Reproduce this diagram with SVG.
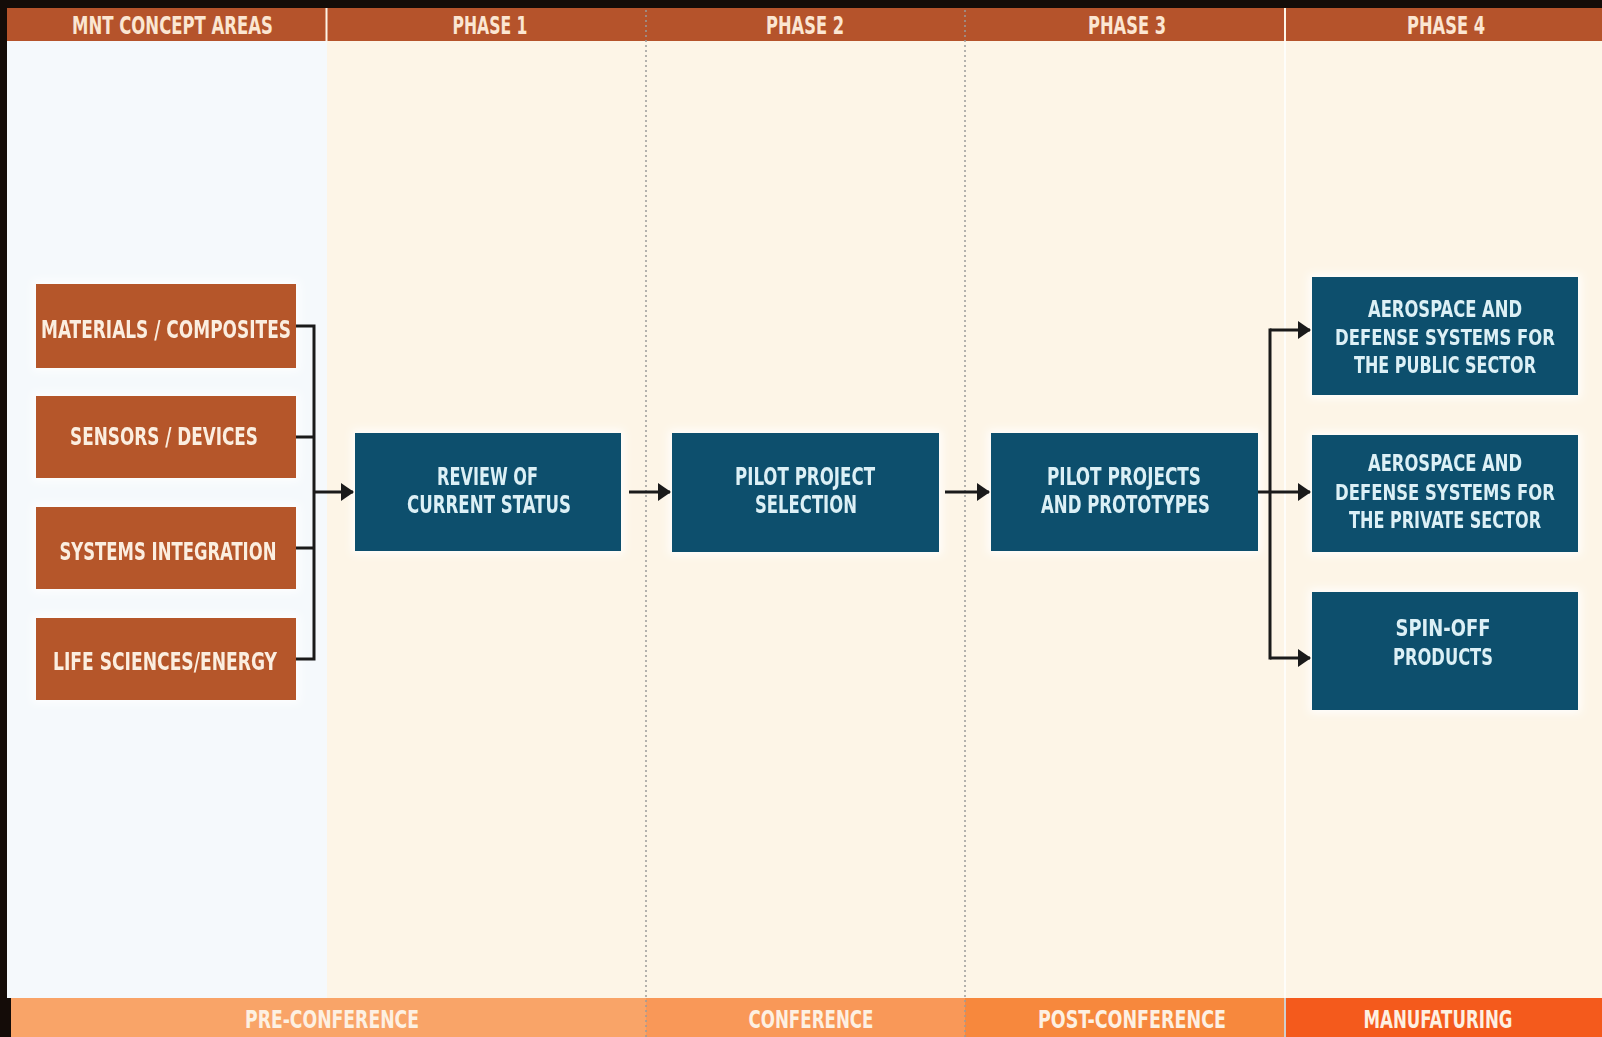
<svg xmlns="http://www.w3.org/2000/svg" width="1602" height="1037" viewBox="0 0 1602 1037">
<defs>
<style>
.t{font-family:"DejaVu Sans Condensed","Liberation Sans",sans-serif;font-weight:bold;font-size:24px;text-anchor:middle;}
.hd{fill:#fbe6d2;}
.ft{fill:#fdf0e2;font-size:25px;}
.ot{fill:#fbeee0;}
.bt{fill:#dcf0f6;}
.rt{font-size:23px;}
.dt{font-size:21px;}
.ob{fill:#b5572b;}
.bb{fill:#0d4f6d;}
.cn{stroke:#1a1a1a;stroke-width:3;fill:none;}
.dot{stroke:#9a9a9a;stroke-width:1.5;stroke-dasharray:2 3;fill:none;}
</style>
<marker id="ah" viewBox="0 0 13 18" refX="12" refY="9" markerWidth="13" markerHeight="18" markerUnits="userSpaceOnUse" orient="auto">
<path d="M0,0 L13,9 L0,18 Z" fill="#1a1a1a"/>
</marker>
<filter id="glow" x="-10%" y="-20%" width="120%" height="140%">
<feMorphology in="SourceAlpha" operator="dilate" radius="3" result="d"/>
<feGaussianBlur in="d" stdDeviation="4" result="b"/>
<feFlood flood-color="#ffffff" flood-opacity="0.9"/>
<feComposite in2="b" operator="in" result="g"/>
<feMerge><feMergeNode in="g"/><feMergeNode in="SourceGraphic"/></feMerge>
</filter>
</defs>

<rect x="0" y="0" width="1602" height="1037" fill="#140c08"/>
<rect x="7" y="41" width="321" height="957" fill="#f5f9fc"/>
<rect x="327" y="41" width="1275" height="957" fill="#fdf5e7"/>

<g id="header">
<rect x="7" y="8" width="1595" height="33" fill="#b5532b"/>
<line x1="326.5" y1="8" x2="326.5" y2="41" stroke="#fdf5e7" stroke-width="2"/>
<line x1="1285" y1="8" x2="1285" y2="41" stroke="#fdf5e7" stroke-width="2"/>
<text class="t hd" x="172.5" y="34" textLength="201" lengthAdjust="spacingAndGlyphs">MNT CONCEPT AREAS</text>
<text class="t hd" x="490" y="34" textLength="75" lengthAdjust="spacingAndGlyphs">PHASE 1</text>
<text class="t hd" x="805" y="34" textLength="78" lengthAdjust="spacingAndGlyphs">PHASE 2</text>
<text class="t hd" x="1127" y="34" textLength="78" lengthAdjust="spacingAndGlyphs">PHASE 3</text>
<text class="t hd" x="1446" y="34" textLength="78" lengthAdjust="spacingAndGlyphs">PHASE 4</text>
</g>

<g id="footer">
<rect x="11" y="998" width="635" height="39" fill="#f9a468"/>
<rect x="646" y="998" width="319" height="39" fill="#f99858"/>
<rect x="965" y="998" width="319" height="39" fill="#f7883d"/>
<rect x="1286" y="998" width="316" height="39" fill="#f45a1c"/>
<line x1="1285" y1="41" x2="1285" y2="1037" stroke="#ffffff" stroke-width="2" opacity="0.8"/>
<text class="t ft" x="332" y="1028" textLength="174" lengthAdjust="spacingAndGlyphs">PRE-CONFERENCE</text>
<text class="t ft" x="811" y="1028" textLength="125" lengthAdjust="spacingAndGlyphs">CONFERENCE</text>
<text class="t ft" x="1132" y="1028" textLength="188" lengthAdjust="spacingAndGlyphs">POST-CONFERENCE</text>
<text class="t ft" x="1438" y="1028" textLength="149" lengthAdjust="spacingAndGlyphs">MANUFATURING</text>
</g>

<g id="dividers">
<line class="dot" x1="646" y1="10" x2="646" y2="1037"/>
<line class="dot" x1="965" y1="10" x2="965" y2="1037"/>
</g>

<g id="materials" filter="url(#glow)">
<rect class="ob" x="36" y="284" width="260" height="84"/>
<text class="t ot" x="166" y="338" textLength="250" lengthAdjust="spacingAndGlyphs">MATERIALS / COMPOSITES</text>
</g>
<g id="sensors" filter="url(#glow)">
<rect class="ob" x="36" y="396" width="260" height="82"/>
<text class="t ot" x="164" y="445" textLength="188" lengthAdjust="spacingAndGlyphs">SENSORS / DEVICES</text>
</g>
<g id="systems" filter="url(#glow)">
<rect class="ob" x="36" y="507" width="260" height="82"/>
<text class="t ot" x="168" y="560" textLength="217" lengthAdjust="spacingAndGlyphs">SYSTEMS INTEGRATION</text>
</g>
<g id="lifesciences" filter="url(#glow)">
<rect class="ob" x="36" y="618" width="260" height="82"/>
<text class="t ot" x="165" y="670" textLength="224" lengthAdjust="spacingAndGlyphs">LIFE SCIENCES/ENERGY</text>
</g>

<g id="review" filter="url(#glow)">
<rect class="bb" x="355" y="433" width="266" height="118"/>
<text class="t bt" x="487.5" y="485" textLength="101" lengthAdjust="spacingAndGlyphs">REVIEW OF</text>
<text class="t bt" x="489" y="513" textLength="164" lengthAdjust="spacingAndGlyphs">CURRENT STATUS</text>
</g>
<g id="pilotselection" filter="url(#glow)">
<rect class="bb" x="672" y="433" width="267" height="119"/>
<text class="t bt" x="805" y="485" textLength="140" lengthAdjust="spacingAndGlyphs">PILOT PROJECT</text>
<text class="t bt" x="806" y="513" textLength="102" lengthAdjust="spacingAndGlyphs">SELECTION</text>
</g>
<g id="pilotprojects" filter="url(#glow)">
<rect class="bb" x="991" y="433" width="267" height="118"/>
<text class="t bt" x="1124" y="485" textLength="154" lengthAdjust="spacingAndGlyphs">PILOT PROJECTS</text>
<text class="t bt" x="1125.5" y="513" textLength="169" lengthAdjust="spacingAndGlyphs">AND PROTOTYPES</text>
</g>

<g id="public" filter="url(#glow)">
<rect class="bb" x="1312" y="277" width="266" height="118"/>
<text class="t bt rt" x="1445" y="317" textLength="154" lengthAdjust="spacingAndGlyphs">AEROSPACE AND</text>
<text class="t bt dt" x="1445" y="345" textLength="220" lengthAdjust="spacingAndGlyphs">DEFENSE SYSTEMS FOR</text>
<text class="t bt rt" x="1445" y="373" textLength="182" lengthAdjust="spacingAndGlyphs">THE PUBLIC SECTOR</text>
</g>
<g id="private" filter="url(#glow)">
<rect class="bb" x="1312" y="435" width="266" height="117"/>
<text class="t bt rt" x="1445" y="471" textLength="154" lengthAdjust="spacingAndGlyphs">AEROSPACE AND</text>
<text class="t bt dt" x="1445" y="500" textLength="220" lengthAdjust="spacingAndGlyphs">DEFENSE SYSTEMS FOR</text>
<text class="t bt rt" x="1445" y="528" textLength="192" lengthAdjust="spacingAndGlyphs">THE PRIVATE SECTOR</text>
</g>
<g id="spinoff" filter="url(#glow)">
<rect class="bb" x="1312" y="592" width="266" height="118"/>
<text class="t bt rt" x="1443" y="636" textLength="95" lengthAdjust="spacingAndGlyphs">SPIN-OFF</text>
<text class="t bt rt" x="1443" y="665" textLength="100" lengthAdjust="spacingAndGlyphs">PRODUCTS</text>
</g>

<g id="connectors">
<path class="cn" d="M296,326 H314 M296,437 H314 M296,548 H314 M296,659 H314 M314,324.5 V660.5"/>
<path class="cn" d="M314,492 H353" marker-end="url(#ah)"/>
<path class="cn" d="M629,492 H670" marker-end="url(#ah)"/>
<path class="cn" d="M945,492 H989" marker-end="url(#ah)"/>
<path class="cn" d="M1258,492 H1270 M1270,328.5 V659.5"/>
<path class="cn" d="M1270,330 H1310" marker-end="url(#ah)"/>
<path class="cn" d="M1270,492 H1310" marker-end="url(#ah)"/>
<path class="cn" d="M1270,658 H1310" marker-end="url(#ah)"/>
</g>
</svg>
